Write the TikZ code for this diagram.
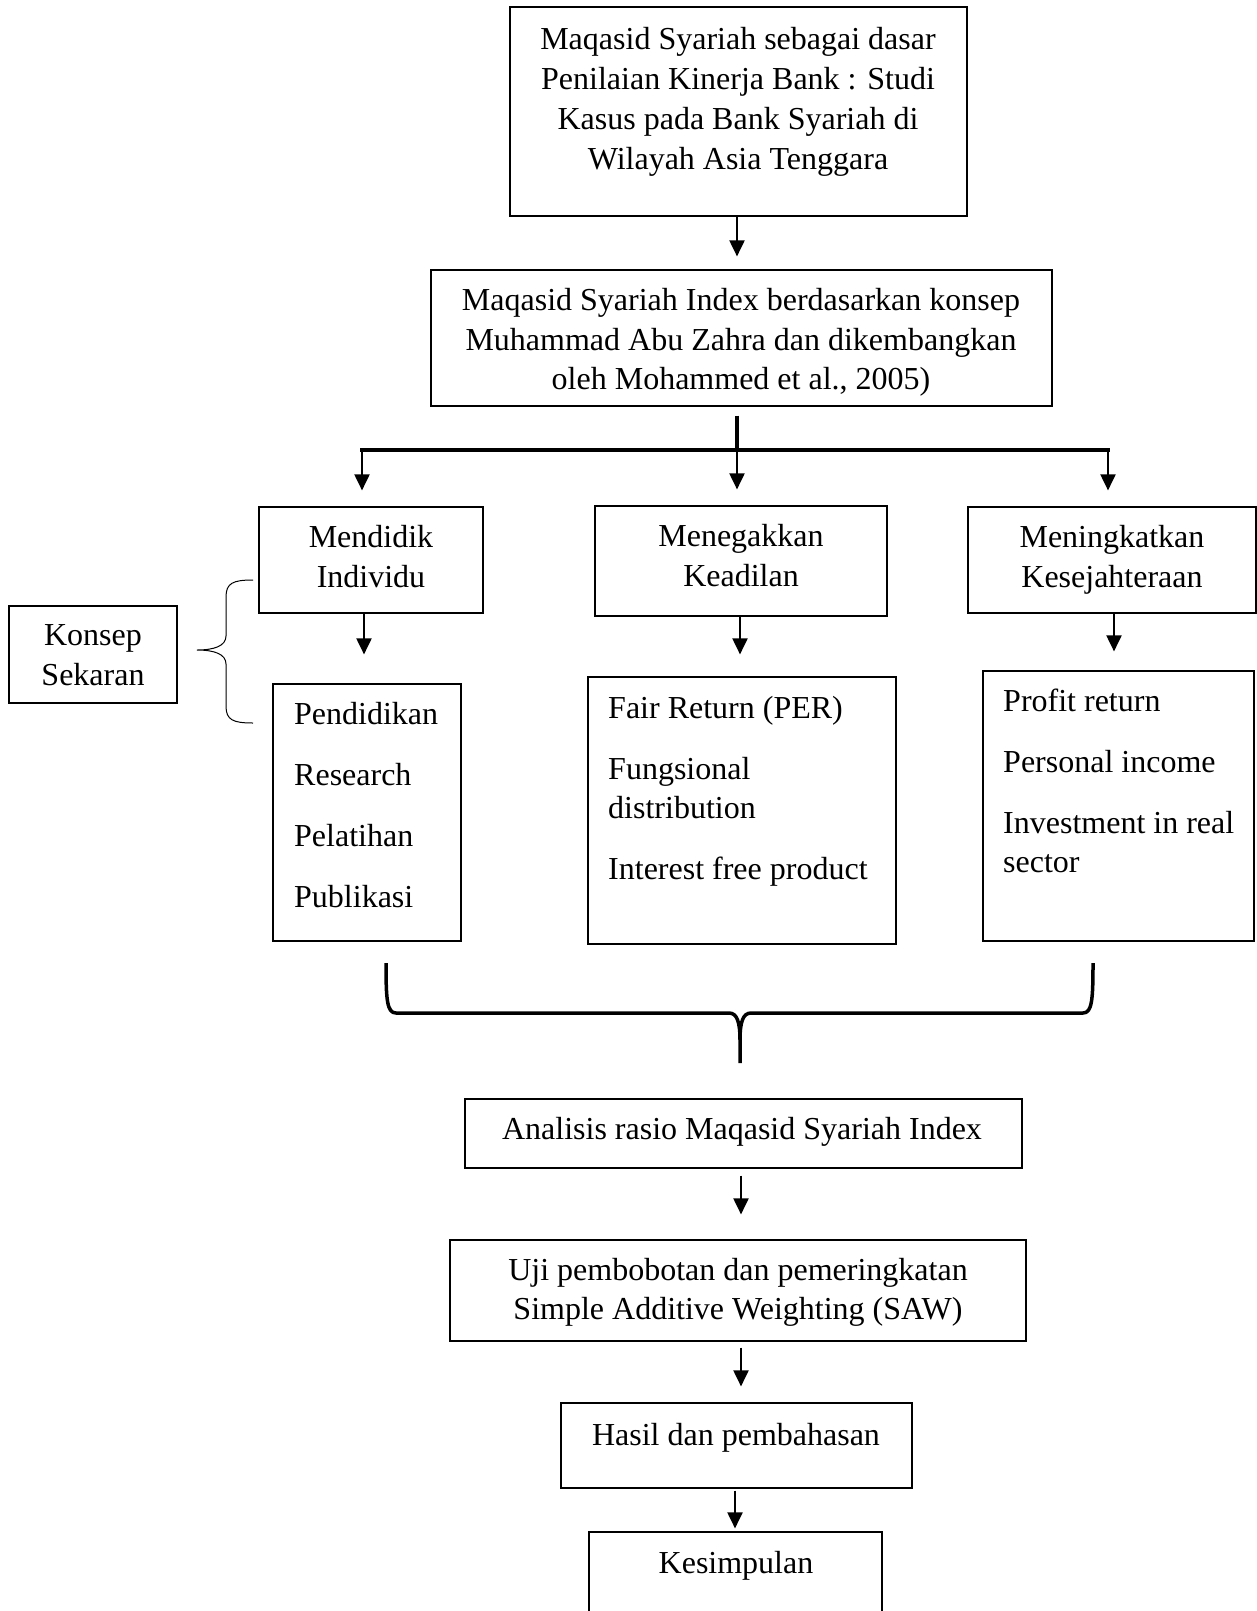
\documentclass[tikz,border=0pt]{standalone}
\usepackage{fontspec}
\setmainfont{Liberation Serif}
\usetikzlibrary{arrows.meta}
\begin{document}
\begin{tikzpicture}[x=1pt,y=-1pt,
  box/.style={draw, line width=1.2pt, inner sep=0pt, rectangle},
  txt/.style={inner sep=0pt, anchor=north, align=center, font=\fontsize{32}{39.5}\selectfont},
  ltxt/.style={inner sep=0pt, anchor=north west, align=left, font=\fontsize{32}{39.5}\selectfont},
  arr/.style={line width=2pt, -{Triangle[length=16pt,width=15pt]}},
  heavy/.style={line width=3.5pt},
  bracethick/.style={line width=3.5pt, line join=round},
  bracethin/.style={line width=1pt},
]
\useasboundingbox (0,0) rectangle (1257,1611);
\clip (0,0) rectangle (1257,1611);

% boxes
\node[box, minimum width=457pt, minimum height=209pt] (b1) at (738.5,111.5) {};
\node[box, minimum width=621pt, minimum height=136pt] (b2) at (741.5,338) {};
\node[box, minimum width=224pt, minimum height=106pt] (m1) at (371,560) {};
\node[box, minimum width=292pt, minimum height=110pt] (m2) at (741,561) {};
\node[box, minimum width=288pt, minimum height=106pt] (m3) at (1112,560) {};
\node[box, minimum width=188pt, minimum height=257pt] (l1) at (367,812.5) {};
\node[box, minimum width=308pt, minimum height=267pt] (l2) at (742,810.5) {};
\node[box, minimum width=271pt, minimum height=270pt] (l3) at (1118.5,806) {};
\node[box, minimum width=168pt, minimum height=97pt] (ks) at (93,654.5) {};
\node[box, minimum width=557pt, minimum height=69pt] (an) at (743.5,1133.5) {};
\node[box, minimum width=576pt, minimum height=101pt] (uj) at (738,1290.5) {};
\node[box, minimum width=351pt, minimum height=85pt] (hs) at (736.5,1445.5) {};
\node[box, minimum width=293pt, minimum height=93pt] (kp) at (735.5,1578.5) {};

% texts
\node[txt, font=\fontsize{32}{40.2}\selectfont] (b1t) at (738,21) {\strut Maqasid Syariah sebagai dasar\\Penilaian Kinerja Bank : Studi\\Kasus pada Bank Syariah di\\Wilayah Asia Tenggara};
\node[txt] (b2t) at (741,283) {\strut Maqasid Syariah Index berdasarkan konsep\\Muhammad Abu Zahra dan dikembangkan\\oleh Mohammed et al., 2005)};
\node[txt] (m1t) at (371,520) {\strut Mendidik\\Individu};
\node[txt] (m2t) at (741,519) {\strut Menegakkan\\Keadilan};
\node[txt] (m3t) at (1112,520) {\strut Meningkatkan\\Kesejahteraan};
\node[txt] (kst) at (93,618) {\strut Konsep\\Sekaran};
\node[ltxt] (l1t) at (294,696.5) {\strut Pendidikan\\[21.5pt]Research\\[21.5pt]Pelatihan\\[21.5pt]Publikasi};
\node[ltxt] (l2t) at (608,690.5) {\strut Fair Return (PER)\\[21.5pt]Fungsional\\distribution\\[21.5pt]Interest free product};
\node[ltxt] (l3t) at (1003,683.5) {\strut Profit return\\[21.5pt]Personal income\\[21.5pt]Investment in real\\sector};
\node[txt] (ant) at (742,1111.5) {\strut Analisis rasio Maqasid Syariah Index};
\node[txt] (ujt) at (738,1252.5) {\strut Uji pembobotan dan pemeringkatan\\Simple Additive Weighting (SAW)};
\node[txt] (hst) at (736,1417.5) {\strut Hasil dan pembahasan};
\node[txt] (kpt) at (736,1545.5) {\strut Kesimpulan};

% connectors
\draw[arr, shorten >=13pt] ([xshift=-1.5pt]b1.south) -- ([xshift=-1.5pt]b1.south |- b2.north);

\coordinate (hub) at (737,450);
\coordinate (hubL) at (362,450);
\coordinate (hubR) at (1108,450);
\draw[heavy, shorten <=9pt] (b2.south -| hub) -- (hub);
\draw[heavy, line cap=rect] (hubL) -- (hubR);
\draw[arr, shorten >=16pt] (hubL) -- (hubL |- m1.north);
\draw[arr, shorten >=16pt] (hub) -- (hub |- m2.north);
\draw[arr, shorten >=16pt] (hubR) -- (hubR |- m3.north);

\draw[arr, shorten >=29pt] ([xshift=-7pt]m1.south) -- ([xshift=-7pt]m1.south |- l1.north);
\draw[arr, shorten >=22pt] ([xshift=-1pt]m2.south) -- ([xshift=-1pt]m2.south |- l2.north);
\draw[arr, shorten >=19pt] ([xshift=2pt]m3.south) -- ([xshift=2pt]m3.south |- l3.north);

\draw[arr, shorten <=7pt, shorten >=25pt] ([xshift=-2.5pt]an.south) -- ([xshift=-2.5pt]an.south |- uj.north);
\draw[arr, shorten <=6pt, shorten >=16pt] ([xshift=3pt]uj.south) -- ([xshift=3pt]uj.south |- hs.north);
\draw[arr, shorten <=2pt, shorten >=3pt] ([xshift=-1.5pt]hs.south) -- ([xshift=-1.5pt]hs.south |- kp.north);

% small brace
\coordinate (sbT) at (253,580);
\coordinate (sbM) at (197,650);
\coordinate (sbB) at (253,723);
\draw[bracethin] (sbT) .. controls (233,580) and (226,583) .. (226,597) -- (226,636)
  .. controls (226,646) and (214,650) .. (sbM)
  .. controls (214,650) and (226,654) .. (226,664) -- (226,706)
  .. controls (226,720) and (233,723) .. (sbB);

% big brace
\coordinate (bbL) at (386,963);
\coordinate (bbR) at (1093,963);
\coordinate (bbM) at (740,1063);
\draw[bracethick] (bbL) .. controls (386,1000) and (387,1013) .. (396,1013) -- (729,1013)
  .. controls (737,1013) and (740,1022) .. (740,1040) -- (bbM);
\draw[bracethick] (bbR) .. controls (1093,1000) and (1092,1013) .. (1083,1013) -- (751,1013)
  .. controls (743,1013) and (740,1022) .. (740,1040);
\end{tikzpicture}
\end{document}
